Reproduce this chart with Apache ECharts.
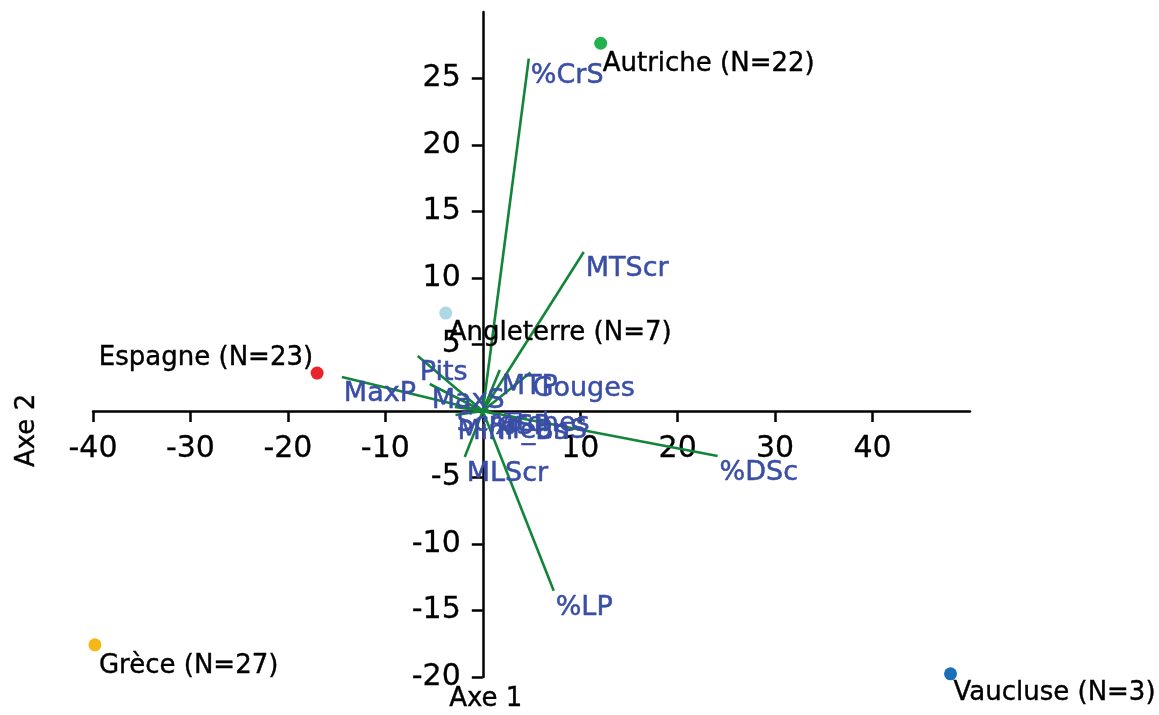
<!DOCTYPE html>
<html>
<head>
<meta charset="utf-8">
<script src="https://cdn.jsdelivr.net/npm/echarts@6/dist/echarts.min.js"></script>
<style>
html,body{margin:0;padding:0;background:#fff;}
#chart{width:1159px;height:715px;}
</style>
</head>
<body>
<div id="chart"></div>
<script>
// ---- data ----
var siteNames = ['Autriche (N=22)', 'Angleterre (N=7)', 'Espagne (N=23)', 'Grèce (N=27)', 'Vaucluse (N=3)'];
var siteX = [12.1, -3.8, -17.0, -39.8, 48.0];
var siteY = [27.65, 7.36, 2.85, -17.58, -19.76];

var varNames = ['%CrS', 'MTScr', '%DSc', '%LP', 'MaxP', 'Pits', 'MaxS_', 'MTP', 'Gouges', 'MLScr', 'Scratches', 'MinP_Bs', '%SP', 'MeanS'];
var varX = [4.72, 10.36, 24.1, 7.28, -14.46, -6.67, -5.44, 1.74, 4.9, -1.85, -2.87, -2.8, 0.6, 1.2];
var varY = [26.5, 11.95, -3.38, -13.52, 2.55, 4.13, 2.03, 3.08, 2.9, -3.46, 0.3, -0.3, 0.1, -0.2];

var xTicks = [-40, -30, -20, -10, 0, 10, 20, 30, 40];
var xTickLabels = [-40, -30, -20, -10, 10, 20, 30, 40];
var yTicks = [-20, -15, -10, -5, 0, 5, 10, 15, 20, 25];
var yTickLabels = [-20, -15, -10, -5, 5, 10, 15, 20, 25];

// ---- styles ----
var siteColors = ['#22b14c', '#add8e6', '#e8252a', '#f7b716', '#1a6fb8'];
// label placement relative to point centre: [dx, dy, align]
var siteLabelPlace = [[2, 21, 'left'], [3, 20, 'left'], [-4, -15, 'right'], [4, 21, 'left'], [3, 19, 'left']];
var FONT = 'DejaVu Sans';
var lineGreen = '#12853a';
var labelBlue = '#3a4ea6';

var X_MIN = -40, X_MAX = 50, Y_MIN = -20, Y_MAX = 30;
var GRID = {left: 93, right: 189, top: 12, bottom: 38};
var W = 1159, H = 715;
var gw = W - GRID.left - GRID.right, gh = H - GRID.top - GRID.bottom;
// place the axes through the origin
var yAxisOffset = -(0 - X_MIN) / (X_MAX - X_MIN) * gw;
var xAxisOffset = -(0 - Y_MIN) / (Y_MAX - Y_MIN) * gh;

var chart = echarts.init(document.getElementById('chart'), null, {renderer: 'canvas'});

var series = [];
varNames.forEach(function (n, i) {
  series.push({
    type: 'line',
    data: [[0, 0], [varX[i], varY[i]]],
    symbol: 'none',
    silent: true,
    z: 2,
    lineStyle: {color: lineGreen, width: 2.6},
    animation: false
  });
});
series.push({
  type: 'scatter',
  symbolSize: 0,
  silent: true,
  z: 3,
  animation: false,
  itemStyle: {opacity: 1},
  data: varNames.map(function (n, i) { return {name: n, value: [varX[i], varY[i]]}; }),
  label: {
    show: true,
    formatter: '{b}',
    position: [2, 17],
    align: 'left',
    verticalAlign: 'middle',
    color: labelBlue,
    opacity: 1,
    textBorderColor: labelBlue,
    textBorderWidth: 0.5,
    fontFamily: FONT,
    fontSize: 27
  }
});
series.push({
  type: 'scatter',
  symbolSize: 13,
  silent: true,
  z: 4,
  animation: false,
  itemStyle: {opacity: 1},
  data: siteNames.map(function (n, i) {
    var p = siteLabelPlace[i];
    return {
      name: n,
      value: [siteX[i], siteY[i]],
      itemStyle: {color: siteColors[i], opacity: 1},
      label: {position: [6.5 + p[0], 6.5 + p[1]], align: p[2]}
    };
  }),
  label: {
    show: true,
    formatter: '{b}',
    verticalAlign: 'middle',
    color: '#000',
    opacity: 1,
    textBorderColor: '#000',
    textBorderWidth: 0.4,
    fontFamily: FONT,
    fontSize: 26
  }
});

var tickLabelStyle = {color: '#000', fontFamily: FONT, fontSize: 30, textBorderColor: '#000', textBorderWidth: 0.3};

chart.setOption({
  animation: false,
  backgroundColor: '#fff',
  textStyle: {fontFamily: FONT},
  grid: {left: GRID.left, right: GRID.right, top: GRID.top, bottom: GRID.bottom, containLabel: false, outerBoundsMode: 'none'},
  xAxis: {
    type: 'value', min: X_MIN, max: X_MAX,
    position: 'bottom', offset: xAxisOffset,
    splitLine: {show: false},
    axisLine: {show: true, onZero: false, lineStyle: {color: '#000', width: 2.5}},
    axisTick: {show: true, length: 11, lineStyle: {color: '#000', width: 2.5}, customValues: xTicks},
    axisLabel: Object.assign({show: true, customValues: xTickLabels, margin: 23}, tickLabelStyle)
  },
  yAxis: {
    type: 'value', min: Y_MIN, max: Y_MAX,
    position: 'left', offset: yAxisOffset,
    splitLine: {show: false},
    axisLine: {show: true, onZero: false, lineStyle: {color: '#000', width: 2.5}},
    axisTick: {show: true, length: 11, lineStyle: {color: '#000', width: 2.5}, customValues: yTicks},
    axisLabel: Object.assign({show: true, customValues: yTickLabels, margin: 22}, tickLabelStyle)
  },
  graphic: [
    {type: 'text', left: 449, top: 686, style: {text: 'Axe 1', fill: '#000', stroke: '#000', lineWidth: 0.4, font: '26px "DejaVu Sans"'}},
    {type: 'text', x: 14, y: 467, rotation: Math.PI / 2, style: {text: 'Axe 2', fill: '#000', stroke: '#000', lineWidth: 0.4, font: '26px "DejaVu Sans"'}}
  ],
  series: series
});
</script>
</body>
</html>
